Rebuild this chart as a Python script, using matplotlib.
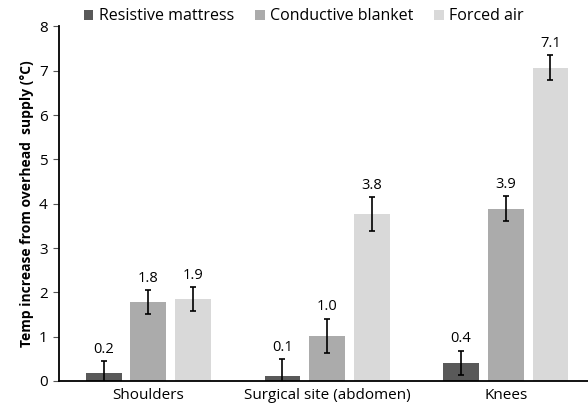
import numpy as np
import matplotlib.pyplot as plt

plt.rcParams['font.family'] = ['Open Sans', 'DejaVu Sans']

categories = ['Shoulders', 'Surgical site (abdomen)', 'Knees']
series_names = ['Resistive mattress', 'Conductive blanket', 'Forced air']
resistive = [0.17, 0.11, 0.41]
resistive_err = [0.27, 0.38, 0.27]
conductive = [1.78, 1.01, 3.89]
conductive_err = [0.27, 0.39, 0.28]
forced = [1.85, 3.76, 7.07]
forced_err = [0.27, 0.38, 0.28]
labels = [['0.2', '0.1', '0.4'], ['1.8', '1.0', '3.9'], ['1.9', '3.8', '7.1']]

colors = ['#595959', '#ababab', '#d9d9d9']

fig = plt.figure(figsize=(5.88, 4.07), dpi=100)
ax = fig.add_axes([0.1003, 0.064, 0.8997, 0.871])

x = np.arange(len(categories))
width = 0.2
offsets = [-0.25, 0, 0.25]
values = [resistive, conductive, forced]
errors = [resistive_err, conductive_err, forced_err]

for i in range(3):
    ax.bar(x + offsets[i], values[i], width, color=colors[i], label=series_names[i],
           yerr=errors[i], error_kw=dict(ecolor='black', elinewidth=1.2, capsize=2, capthick=1.2))
    for j in range(3):
        ax.text(x[j] + offsets[i], values[i][j] + errors[i][j] + 0.1, labels[i][j],
                ha='center', va='bottom', fontsize=10.5)

ax.set_xlim(-0.5, 2.46)
ax.set_ylim(0, 8)
ax.set_yticks(range(9))
ax.set_xticks(x)
ax.set_xticklabels(categories, fontsize=11)
ax.tick_params(axis='x', length=0, pad=5)
ax.tick_params(axis='y', labelsize=11, length=4, width=0.8, color='#555555', pad=4)
for s in ['top', 'right']:
    ax.spines[s].set_visible(False)
ax.spines['left'].set_linewidth(1.3)
ax.spines['bottom'].set_linewidth(1.3)
ax.set_ylabel('Temp increase from overhead  supply (°C)', fontsize=10, fontweight='bold')

fig.legend(loc='upper left', bbox_to_anchor=(0.118, 1.015), ncol=3, frameon=False,
           fontsize=11.5, handlelength=0.6, handleheight=0.6, handletextpad=0.35,
           columnspacing=1.3)

fig.savefig('out.png', dpi=100)
